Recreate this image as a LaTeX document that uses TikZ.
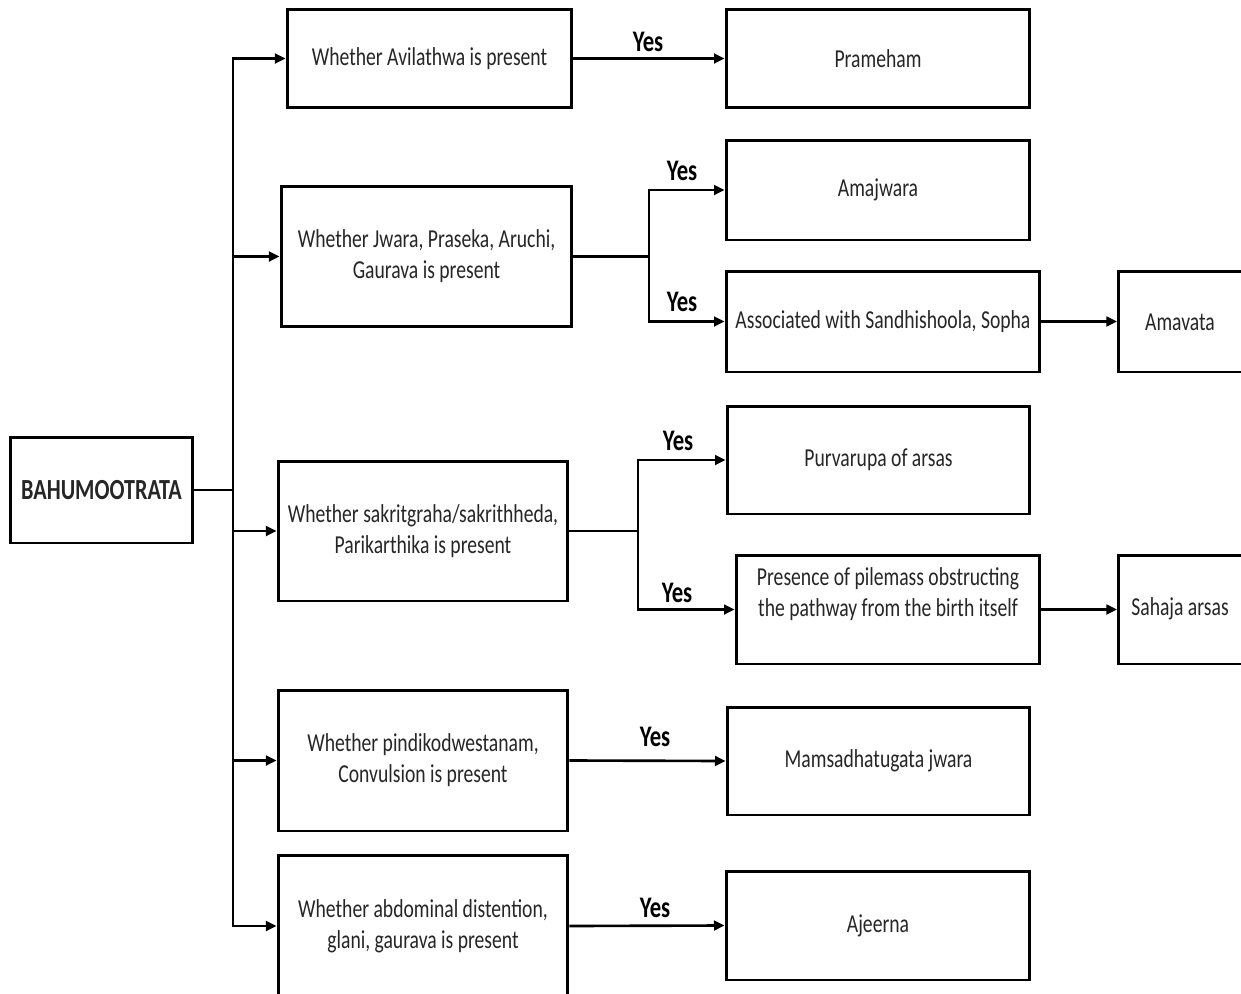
\documentclass[tikz,border=0pt]{standalone}
\usepackage{fontspec}
\setmainfont{Carlito}[FakeStretch=0.76]
\usetikzlibrary{arrows.meta}
\tikzset{
  box/.style={draw=black, line width=1.7pt, rectangle, inner sep=0pt, align=center, text=black!85},
  txt/.style={align=center, text=black!85, font=\fontsize{14.7}{17.6}\selectfont},
  yes/.style={font=\bfseries\fontsize{17}{20}\selectfont, text=black},
  conn/.style={line width=1.5pt},
  arr/.style={conn, -{Triangle[length=6pt,width=5.5pt]}}
}
\begin{document}
\begin{tikzpicture}[x=0.02cm, y=-0.02cm]
\useasboundingbox (0,0) rectangle (1241,994);
\clip (0,0) rectangle (1241,994);
\fill[white] (0,0) rectangle (1241,994);
% boxes
\node[box, minimum width=3.66cm, minimum height=2.12cm, font=\bfseries\fontsize{16.6}{19}\selectfont] (bahu) at (101.5,490) {BAHUMOOTRATA};
\node[box, txt, minimum width=5.70cm, minimum height=1.98cm] (q1) at (429.5,58.5) {Whether Avilathwa is present};
\node[box, txt, minimum width=5.82cm, minimum height=2.82cm] (q2) at (426.5,256.5) {Whether Jwara, Praseka, Aruchi,\\Gaurava is present};
\node[box, txt, minimum width=5.80cm, minimum height=2.80cm] (q3) at (423,531) {Whether sakritgraha/sakrithheda,\\Parikarthika is present};
\node[box, txt, minimum width=5.80cm, minimum height=2.82cm] (q4) at (423,760.5) {Whether pindikodwestanam,\\Convulsion is present};
\node[box, txt, minimum width=5.80cm, minimum height=2.84cm] (q5) at (423,926) {Whether abdominal distention,\\glani, gaurava is present};
\node[box, txt, minimum width=6.08cm, minimum height=1.98cm] (r1) at (878,58.5) {Prameham};
\node[box, txt, minimum width=6.08cm, minimum height=2.00cm] (r2) at (878,190) {Amajwara};
\node[box, txt, minimum width=6.28cm, minimum height=2.02cm] (r3) at (883,321.5) {Associated with Sandhishoola, Sopha};
\node[box, txt, minimum width=6.06cm, minimum height=2.16cm] (r4) at (878.5,460) {Purvarupa of arsas};
\node[box, minimum width=6.08cm, minimum height=2.18cm] (r5) at (888,609.5) {};
\node[txt] (r5t) at (888,594) {Presence of pilemass obstructing\\the pathway from the birth itself};
\node[box, txt, minimum width=6.06cm, minimum height=2.16cm] (r6) at (878.5,761) {Mamsadhatugata jwara};
\node[box, txt, minimum width=6.08cm, minimum height=2.18cm] (r7) at (878,925.5) {Ajeerna};
\node[box, minimum width=2.80cm, minimum height=2.02cm, anchor=west] (s1) at (1117,321.5) {};
\node[txt] (s1t) at (1180,322) {Amavata};
\node[box, minimum width=2.80cm, minimum height=2.18cm, anchor=west] (s2) at (1117,609.5) {};
\node[txt] (s2t) at (1180,609) {Sahaja arsas};
% trunk
\coordinate (j0) at (233,490);
\draw[conn] (bahu.east) -- (j0);
\draw[arr] (j0) |- (q1.west);
\draw[arr] (j0) |- (q2.west);
\draw[arr] (j0) |- (q3.west);
\draw[arr] (j0) |- (q4.west);
\draw[arr] (j0) |- (q5.west);
% level 2
\draw[arr] (q1.east) -- (r1.west);
\coordinate (j2) at (649,256.5);
\draw[conn] (q2.east) -- (j2);
\draw[arr] (j2) |- (r2.west);
\draw[arr] (j2) |- (r3.west);
\coordinate (j3) at (638,531);
\draw[conn] (q3.east) -- (j3);
\draw[arr] (j3) |- (r4.west);
\draw[arr] (j3) |- (r5.west);
\draw[arr] (q4.east) -- (r6.west);
\draw[arr] (q5.east) -- (r7.west);
\draw[arr] (r3.east) -- (s1.west);
\draw[arr] (r5.east) -- (s2.west);
% yes labels
\node[yes] (y1) at (648,42) {Yes};
\node[yes] (y2) at (682,171) {Yes};
\node[yes] (y3) at (682,302) {Yes};
\node[yes] (y4) at (678,441) {Yes};
\node[yes] (y5) at (677,593) {Yes};
\node[yes] (y6) at (655,737) {Yes};
\node[yes] (y7) at (655,908) {Yes};
\end{tikzpicture}
\end{document}
